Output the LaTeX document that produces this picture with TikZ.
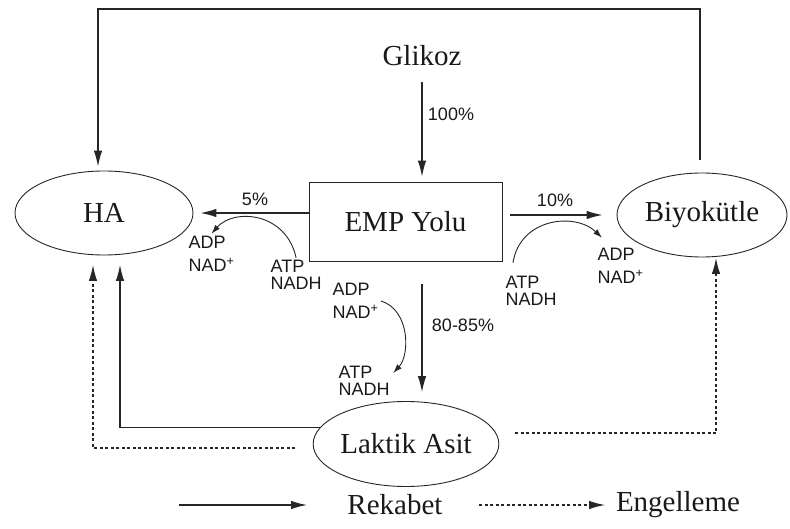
\documentclass[tikz,border=0pt]{standalone}
\usepackage{fontspec}
\setmainfont{Liberation Serif}
\newfontfamily\lsans{Liberation Sans}
\usetikzlibrary{arrows.meta,shapes.geometric}
\begin{document}
\begin{tikzpicture}[x=1pt,y=-1pt,
  draw=black!85,
  line width=1.2pt,
  big/.style={font=\fontsize{29}{31}\selectfont, text=black!90},
  pct/.style={font=\lsans\fontsize{18}{18}\selectfont, inner sep=0pt, text=black!90},
  adpst/.style={font=\lsans\fontsize{18}{23}\selectfont, align=left, inner sep=0pt, anchor=west, text=black!90},
  atpst/.style={font=\lsans\fontsize{18}{17}\selectfont, align=left, inner sep=0pt, anchor=west, text=black!90},
  oval/.style={ellipse, draw=black!85, line width=0.9pt, inner sep=0pt, big},
  arr/.style={-{Latex[length=16pt,width=8.5pt]}},
  sarr/.style={-{Latex[length=9pt,width=6pt]}, line width=0.9pt},
  dot/.style={dash pattern=on 3pt off 2.5pt}
]
\useasboundingbox (0,0) rectangle (790,529);

% main nodes
\node[oval, minimum width=178pt, minimum height=84pt] (ha) at (104,213) {HA};
\node[oval, minimum width=170pt, minimum height=84pt] (bio) at (702,215) {Biyokütle};
\node[oval, minimum width=183pt, minimum height=85pt] (lak) at (406,444) {Laktik Asit};
\node[draw=black!85, line width=0.9pt, minimum width=193pt, minimum height=79pt, big] (emp) at (405.5,221.5) {EMP Yolu};
\node[big] (glk) at (422,56) {Glikoz};

% percent labels
\node[pct] (p100) at (451,114) {100\%};
\node[pct] (p5) at (255,199) {5\%};
\node[pct] (p10) at (555,200) {10\%};
\node[pct] (p80) at (463,325) {80-85\%};

% cofactor labels
\node[adpst] (adp1) at (188,254) {ADP\\NAD\textsuperscript{+}};
\node[atpst] (atp1) at (270,275) {ATP\\NADH};
\node[adpst] (adp2) at (332,301) {ADP\\NAD\textsuperscript{+}};
\node[atpst] (atp2) at (338,381) {ATP\\NADH};
\node[atpst] (atp3) at (505,291) {ATP\\NADH};
\node[adpst] (adp3) at (597,266) {ADP\\NAD\textsuperscript{+}};

% helper coordinates
\coordinate (tl) at (98,9);
\coordinate (tr) at (700,9);
\coordinate (vx) at (422,0);
\coordinate (sa) at (120,265);
\coordinate (d1) at (295,448);
\coordinate (da) at (93,265);
\coordinate (d2) at (515,433);
\coordinate (db) at (716,258);

% main arrows
\draw[arr, shorten <=13pt, shorten >=4pt] (bio.north -| tr) -- (tr) -- (tl) -- (ha.north -| tl);
\draw[arr, shorten <=12pt, shorten >=5pt] (glk.south) -- (glk.south |- emp.north);
\draw[arr, shorten >=7pt] (emp.west |- ha.east) -- (ha.east);
\draw[arr, shorten <=8pt, shorten >=14pt] (emp.east |- bio.west) -- (bio.west);
\draw[arr, shorten <=23pt, shorten >=9pt] (emp.south -| vx) -- (lak.north -| vx);
\draw[arr] (lak.169) -| (sa);
\draw[arr, dot] (d1) -| (da);
\draw[arr, dot] (d2) -| (db);

% cofactor curves
\draw[sarr] ([yshift=2pt]atp1.north) .. controls (286,212) and (234,208) .. ([yshift=2pt]adp1.north);
\draw[sarr] ([xshift=2pt]adp2.east) .. controls (410,310) and (410,355) .. ([shift={(3,-8)}]atp2.east);
\draw[sarr] ([shift={(8,-13)}]atp3.north west) .. controls (520,218) and (575,212) .. ([shift={(5,-10)}]adp3.north west);

% legend
\coordinate (l1a) at (179,505);
\coordinate (l1b) at (307,505);
\coordinate (l2a) at (479,505);
\coordinate (l2b) at (605,505);
\draw[arr] (l1a) -- (l1b);
\node[big] (rek) at (395,505) {Rekabet};
\draw[arr, dot] (l2a) -- (l2b);
\node[big] (eng) at (678,505) {Engelleme};
\end{tikzpicture}
\end{document}
